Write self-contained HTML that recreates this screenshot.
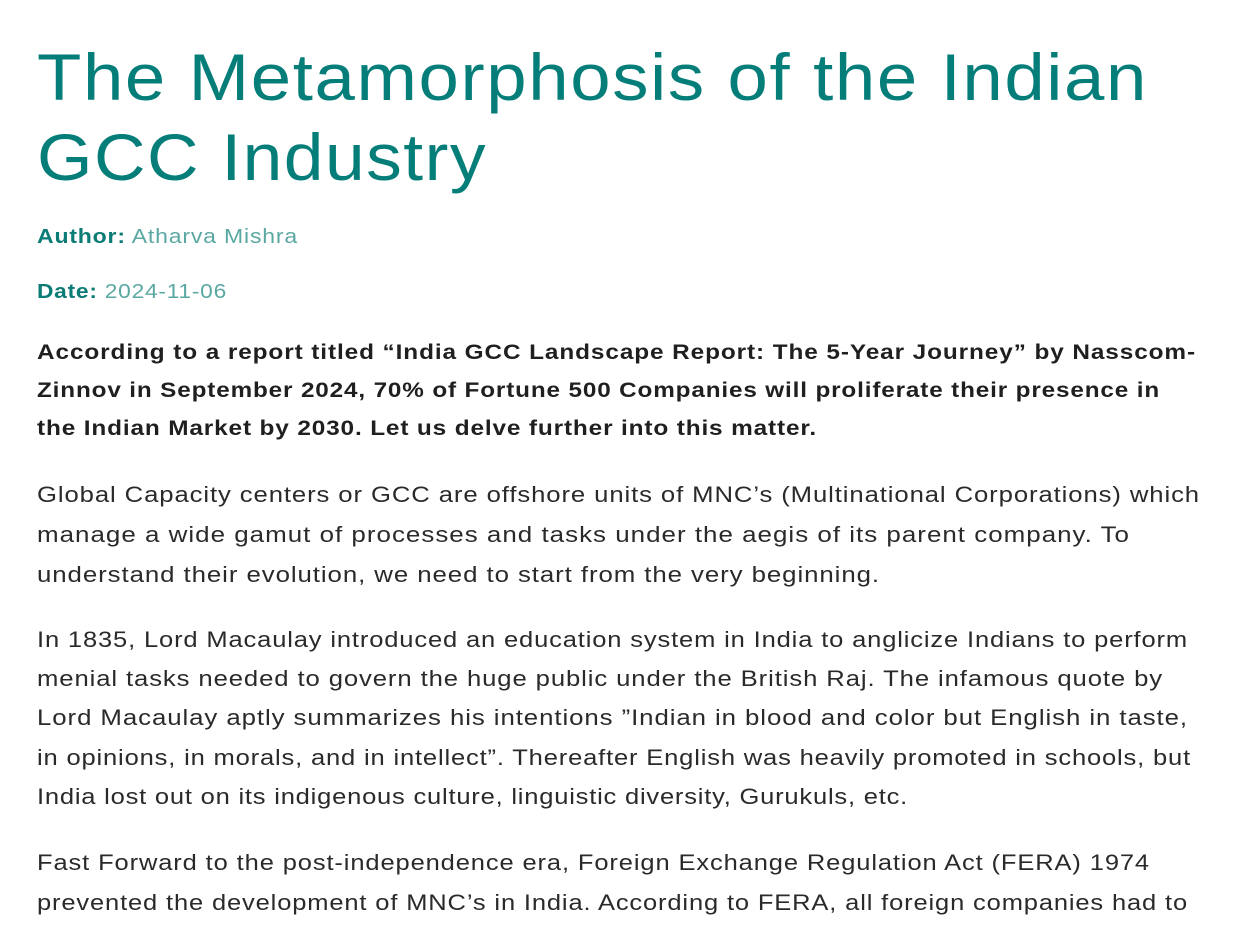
<!DOCTYPE html>
<html><head><meta charset="utf-8">
<style>
html,body{margin:0;padding:0;background:#fff;width:1235px;height:928px;overflow:hidden;position:relative}
.ln{position:absolute;left:37px;white-space:nowrap;font-family:"Liberation Sans",sans-serif;transform-origin:0 50%}
.t{font-size:66px;line-height:66px;color:#057e7a;font-weight:normal}
.m{font-size:20px;line-height:20px;color:#5ba8a2}
.m b{color:#0b7b76}
.bd{font-size:21px;line-height:21px;font-weight:bold;color:#1f1f1f}
.p{font-size:22px;line-height:22px;color:#2a2a2a}
</style></head><body>
<h1 style="margin:0">
<div class="ln t" style="top:44px" data-w="1111">The Metamorphosis of the Indian</div>
<div class="ln t" style="top:124px" data-w="450">GCC Industry</div>
</h1>
<div class="ln m" style="top:227px" data-w="261"><b>Author:</b> Atharva Mishra</div>
<div class="ln m" style="top:282px" data-w="190"><b>Date:</b> 2024-11-06</div>
<div>
<div class="ln bd" style="top:342px" data-w="1159">According to a report titled “India GCC Landscape Report: The 5-Year Journey” by Nasscom-</div>
<div class="ln bd" style="top:380px" data-w="1123">Zinnov in September 2024, 70% of Fortune 500 Companies will proliferate their presence in</div>
<div class="ln bd" style="top:418px" data-w="780">the Indian Market by 2030. Let us delve further into this matter.</div>
</div>
<div>
<div class="ln p" style="top:484px" data-w="1163">Global Capacity centers or GCC are offshore units of MNC’s (Multinational Corporations) which</div>
<div class="ln p" style="top:524px" data-w="1093">manage a wide gamut of processes and tasks under the aegis of its parent company. To</div>
<div class="ln p" style="top:564px" data-w="843">understand their evolution, we need to start from the very beginning.</div>
</div>
<div>
<div class="ln p" style="top:629px" data-w="1151">In 1835, Lord Macaulay introduced an education system in India to anglicize Indians to perform</div>
<div class="ln p" style="top:668px" data-w="1126">menial tasks needed to govern the huge public under the British Raj. The infamous quote by</div>
<div class="ln p" style="top:707px" data-w="1151">Lord Macaulay aptly summarizes his intentions ”Indian in blood and color but English in taste,</div>
<div class="ln p" style="top:747px" data-w="1154">in opinions, in morals, and in intellect”. Thereafter English was heavily promoted in schools, but</div>
<div class="ln p" style="top:786px" data-w="871">India lost out on its indigenous culture, linguistic diversity, Gurukuls, etc.</div>
</div>
<div>
<div class="ln p" style="top:852px" data-w="1113">Fast Forward to the post-independence era, Foreign Exchange Regulation Act (FERA) 1974</div>
<div class="ln p" style="top:892px" data-w="1151">prevented the development of MNC’s in India. According to FERA, all foreign companies had to</div>
</div>
<script>
document.querySelectorAll('[data-w]').forEach(function(el){
  var target=parseFloat(el.getAttribute('data-w'));
  var w=el.getBoundingClientRect().width;
  var n=el.textContent.length;
  var extra=target-w;
  var ls=(extra*0.3)/(n-1);
  el.style.letterSpacing=ls+'px';
  var w2=el.getBoundingClientRect().width;
  el.style.transform='scaleX('+(target/w2)+')';
});
</script>
</body></html>
